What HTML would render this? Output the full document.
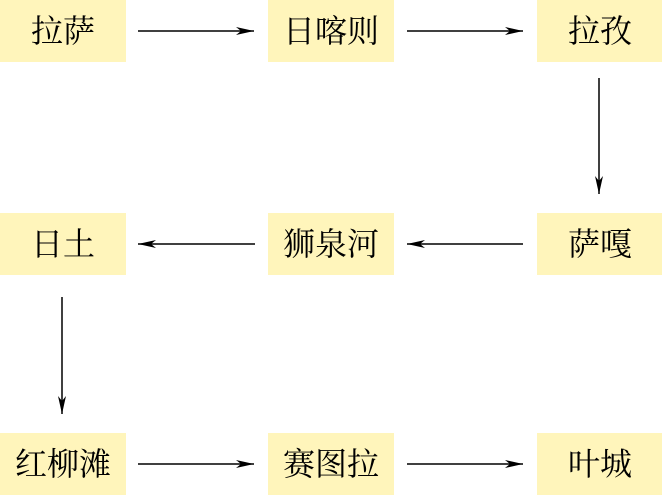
<!DOCTYPE html>
<html><head><meta charset="utf-8"><style>
body{margin:0;width:662px;height:495px;background:#fff;position:relative;overflow:hidden}
.b{position:absolute;width:126px;height:62px;background:#fff5bb;font-family:"Liberation Serif","Noto Serif CJK SC",serif;font-size:32px;line-height:62px;text-align:center;color:#000}
svg{position:absolute;left:0;top:0}
</style></head><body>
<div class="b" style="left:0;top:0">拉萨</div>
<div class="b" style="left:268px;top:0">日喀则</div>
<div class="b" style="left:537px;top:0">拉孜</div>
<div class="b" style="left:0;top:213px">日土</div>
<div class="b" style="left:268px;top:213px">狮泉河</div>
<div class="b" style="left:537px;top:213px">萨嘎</div>
<div class="b" style="left:0;top:433px">红柳滩</div>
<div class="b" style="left:268px;top:433px">赛图拉</div>
<div class="b" style="left:537px;top:433px">叶城</div>
<svg width="662" height="495">
<defs><marker id="a" markerWidth="18" markerHeight="8" refX="18" refY="4" orient="auto" markerUnits="userSpaceOnUse"><path d="M0,0 L18,4 L0,8 L5,4z" fill="#000"/></marker></defs>
<g stroke="#000" stroke-width="1.5" marker-end="url(#a)">
<line x1="138" y1="31" x2="254" y2="31"/>
<line x1="407" y1="31" x2="523" y2="31"/>
<line x1="599" y1="78" x2="599" y2="194"/>
<line x1="255" y1="244" x2="138" y2="244"/>
<line x1="523" y1="244" x2="407" y2="244"/>
<line x1="62" y1="297" x2="62" y2="414"/>
<line x1="138" y1="464" x2="254" y2="464"/>
<line x1="407" y1="464" x2="523" y2="464"/>
</g>
</svg>
</body></html>
